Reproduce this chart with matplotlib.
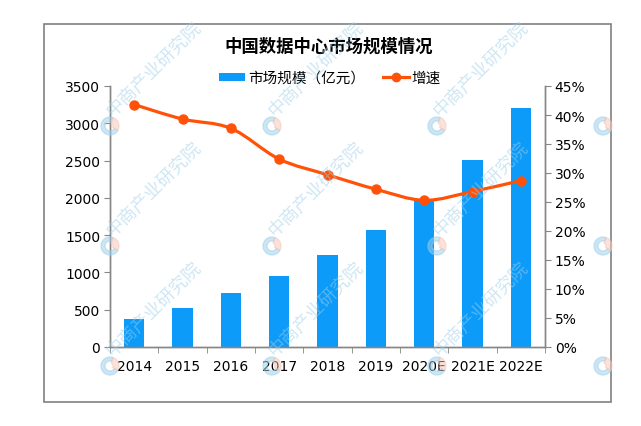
import matplotlib
matplotlib.use("Agg")
import matplotlib.pyplot as plt
from matplotlib.path import Path
from matplotlib.patches import PathPatch, Rectangle, Wedge, Patch
from matplotlib.lines import Line2D
import numpy as np

plt.rcParams['font.family'] = ['DejaVu Sans', 'Noto Sans CJK SC']

categories = ['2014', '2015', '2016', '2017', '2018', '2019', '2020E', '2021E', '2022E']
market_size = [377, 525, 727, 955, 1238, 1575, 1970, 2505, 3205]
growth = [41.8, 39.3, 37.7, 32.4, 29.7, 27.2, 25.3, 26.8, 28.7]
left_ticks = [0, 500, 1000, 1500, 2000, 2500, 3000, 3500]
right_ticks = [0, 5, 10, 15, 20, 25, 30, 35, 40, 45]

title = '中国数据中心市场规模情况'
bar_label = '市场规模（亿元）'
line_label = '增速'
watermark = '中商产业研究院'

bar_color = '#0c9bf9'
line_color = '#ff5208'
axis_color = '#868686'
cjk = ['Noto Sans CJK SC', 'DejaVu Sans']

fig = plt.figure(figsize=(6.41, 4.27), dpi=100)
ax = fig.add_axes([110/641, 1-348/427, (545-110)/641, (348-87)/427])
ax2 = ax.twinx()

x = np.arange(len(categories))
ax.bar(x, market_size, width=0.42, color=bar_color, zorder=2)
ax.set_xlim(-0.5, len(categories)-0.5)
ax.set_ylim(0, 3500)
ax.set_yticks(left_ticks)
ax.set_xticks(x)
ax.set_xticklabels(categories)
ax.set_xticks(np.arange(-0.5, len(categories), 1), minor=True)
ax.tick_params(axis='x', which='major', length=0, pad=9, labelsize=10)
ax.tick_params(axis='x', which='minor', length=4, color=axis_color, direction='out')
ax.tick_params(axis='y', length=4, color=axis_color, labelsize=10, pad=3)

# smooth line via Catmull-Rom -> cubic Bezier
pts = np.column_stack([x, growth]).astype(float)
verts = [tuple(pts[0])]
codes = [Path.MOVETO]
n = len(pts)
for i in range(n-1):
    p0 = pts[max(i-1, 0)]
    p1 = pts[i]
    p2 = pts[i+1]
    p3 = pts[min(i+2, n-1)]
    c1 = p1 + (p2 - p0) / 6.0
    c2 = p2 - (p3 - p1) / 6.0
    verts += [tuple(c1), tuple(c2), tuple(p2)]
    codes += [Path.CURVE4]*3
ax2.add_patch(PathPatch(Path(verts, codes), fill=False, edgecolor=line_color, lw=2.3, zorder=3))
ax2.plot(x, growth, linestyle='none', marker='o', markersize=6.5, color=line_color, zorder=4)
ax2.set_ylim(0, 45)
ax2.set_yticks(right_ticks)
ax2.set_yticklabels([f'{t}%' for t in right_ticks])
ax2.tick_params(axis='y', length=4, color=axis_color, labelsize=10, pad=3)

for a in (ax, ax2):
    a.spines['top'].set_visible(False)
    for s in ('left', 'right', 'bottom'):
        a.spines[s].set_color(axis_color)
        a.spines[s].set_linewidth(1.0)
ax.set_zorder(1)
ax2.set_zorder(2)
ax.patch.set_visible(False)
ax2.patch.set_visible(False)

# title and legend
fig.text(329/641, 1-47/427, title, ha='center', va='center', fontsize=12.5,
         fontweight='bold', family=cjk)
handles = [Patch(facecolor=bar_color, edgecolor='none'),
           Line2D([], [], color=line_color, lw=2.3, marker='o', markersize=6)]
leg = fig.legend(handles, [bar_label, line_label], loc='center', ncol=2,
                 bbox_to_anchor=(330/641, 1-79/427), frameon=False,
                 prop={'family': cjk, 'size': 10.5}, handlelength=1.8,
                 handleheight=0.5, handletextpad=0.2, columnspacing=1.2)

# outer frame
fig.patches.append(Rectangle((44/641, 1-403/427), (611-44)/641, (403-25)/427,
                             transform=fig.transFigure, fill=False,
                             edgecolor='#808080', lw=1.2, zorder=0))

# watermarks
wm_color = '#9ccfea'
for cx in [110, 272, 437, 603]:
    for cy in [127, 247, 367]:
        fx, fy = cx/641, 1-cy/427
        if cx < 600:
            fig.text(fx + 6/641, fy + 6/427, watermark, rotation=45,
                     ha='left', va='bottom', rotation_mode='anchor', fontsize=13,
                     color=wm_color, alpha=0.5, family=cjk, zorder=10)
        fig.patches.append(Wedge((cx, 427-cy), 9, 70, 330, width=4,
                                 transform=None, color=wm_color, alpha=0.5, zorder=10))
        fig.patches.append(Wedge((cx, 427-cy), 9, 330, 70, width=6,
                                 transform=None, color='#f7c6b8', alpha=0.5, zorder=10))

fig.savefig('out.png', dpi=100)
